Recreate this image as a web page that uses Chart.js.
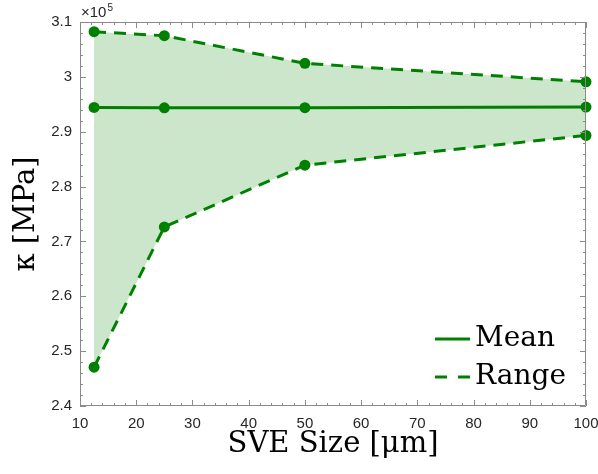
<!DOCTYPE html>
<html>
<head>
<meta charset="utf-8">
<script src="https://cdn.jsdelivr.net/npm/chart.js@4"></script>
<style>
  html, body { margin: 0; padding: 0; background: #fff; }
  #holder { width: 598px; height: 474px; }
</style>
</head>
<body>
<div id="holder"><canvas id="c" width="598" height="474"></canvas></div>
<script>
// data (kappa in MPa)
let sveSize   = [12.5, 25, 50, 100];
let meanVals  = [294430, 294360, 294380, 294490];
let upperVals = [308230, 307500, 302460, 299100];
let lowerVals = [247070, 272650, 283900, 289320];

let xTicks = [10, 20, 30, 40, 50, 60, 70, 80, 90, 100];
let yTicks = [240000, 250000, 260000, 270000, 280000, 290000, 300000, 310000];

let green = "#008000";
let axisGray = "#8a8a8a";
let textDark = "#262626";

function pts(vals) {
  return sveSize.map((s, i) => ({ x: s, y: vals[i] }));
}

// inside ticks on all four sides + box + exponent label
let boxTicks = {
  id: "boxTicks",
  afterDraw(chart) {
    let ctx = chart.ctx, a = chart.chartArea;
    let xs = chart.scales.x, ys = chart.scales.y;
    ctx.save();
    ctx.strokeStyle = axisGray;
    ctx.lineWidth = 1;
    ctx.beginPath();
    ctx.rect(a.left + 0.5, a.top + 0.5, a.right - a.left - 1, a.bottom - a.top - 1);
    ctx.stroke();

    ctx.beginPath();
    for (let v = xs.min; v <= xs.max + 1e-9; v += 2) {
      let len = (v % 10 === 0) ? 6 : 3;
      let px = Math.round(xs.getPixelForValue(v)) + 0.5;
      ctx.moveTo(px, a.bottom); ctx.lineTo(px, a.bottom - len);
      ctx.moveTo(px, a.top); ctx.lineTo(px, a.top + len);
    }
    for (let v = ys.min; v <= ys.max + 1; v += 2000) {
      let len = (Math.round(v) % 10000 === 0) ? 6 : 3;
      let py = Math.round(ys.getPixelForValue(v)) + 0.5;
      ctx.moveTo(a.left, py); ctx.lineTo(a.left + len, py);
      ctx.moveTo(a.right, py); ctx.lineTo(a.right - len, py);
    }
    ctx.stroke();

    // x10^5
    ctx.fillStyle = textDark;
    ctx.textBaseline = "alphabetic";
    ctx.textAlign = "left";
    ctx.font = "15px 'Liberation Sans'";
    ctx.fillText("\u00d710", a.left + 1, 17);
    let w = ctx.measureText("\u00d710").width;
    ctx.font = "10px 'Liberation Sans'";
    ctx.fillText("5", a.left + 1 + w + 1, 11);
    ctx.restore();
  }
};

// legend in lower right of plot
let legendBox = {
  id: "legendBox",
  afterDraw(chart) {
    let ctx = chart.ctx, a = chart.chartArea;
    let x0 = a.right - 151, x1 = a.right - 116;
    let rows = [
      { label: "Mean", y: a.bottom - 67, dash: [] },
      { label: "Range", y: a.bottom - 29, dash: [12, 11] }
    ];
    ctx.save();
    ctx.strokeStyle = green;
    ctx.lineWidth = 3;
    ctx.fillStyle = "#000";
    ctx.font = "28px 'DejaVu Serif'";
    ctx.textBaseline = "middle";
    rows.forEach(r => {
      ctx.setLineDash(r.dash);
      ctx.beginPath();
      ctx.moveTo(x0, r.y); ctx.lineTo(x1, r.y);
      ctx.stroke();
      ctx.fillText(r.label, x1 + 5, r.y);
    });
    ctx.restore();
  }
};

new Chart(document.getElementById("c"), {
  type: "line",
  data: {
    datasets: [
      {
        label: "Lower",
        data: pts(lowerVals),
        borderColor: green,
        backgroundColor: green,
        borderWidth: 3,
        borderDash: [12, 8],
        pointRadius: 5.5,
        pointBackgroundColor: green,
        pointBorderWidth: 0,
        fill: false,
        clip: false
      },
      {
        label: "Upper",
        data: pts(upperVals),
        borderColor: green,
        backgroundColor: "rgba(0,128,0,0.2)",
        borderWidth: 3,
        borderDash: [12, 8],
        pointRadius: 5.5,
        pointBackgroundColor: green,
        pointBorderWidth: 0,
        fill: { target: 0 },
        clip: false
      },
      {
        label: "Mean",
        data: pts(meanVals),
        borderColor: green,
        backgroundColor: green,
        borderWidth: 3,
        pointRadius: 5.5,
        pointBackgroundColor: green,
        pointBorderWidth: 0,
        fill: false,
        clip: false
      }
    ]
  },
  options: {
    responsive: false,
    animation: false,
    layout: { padding: { top: 22, right: 12, left: 0, bottom: 0 } },
    plugins: {
      legend: { display: false },
      tooltip: { enabled: false }
    },
    scales: {
      x: {
        type: "linear",
        min: 10,
        max: 100,
        afterBuildTicks: s => { s.ticks = xTicks.map(v => ({ value: v })); },
        afterFit: s => { s.height = 68; s.paddingRight = 0; s.paddingLeft = 0; },
        grid: { display: false, drawTicks: false },
        border: { display: false },
        ticks: {
          padding: 9,
          color: textDark,
          font: { family: "'Liberation Sans'", size: 15 },
          maxRotation: 0
        },
        title: {
          display: true,
          text: "SVE Size [\u03bcm]",
          color: "#000",
          font: { family: "'DejaVu Serif'", size: 29 },
          padding: { top: 0, bottom: 12 }
        }
      },
      y: {
        min: 240000,
        max: 310000,
        afterBuildTicks: s => { s.ticks = yTicks.map(v => ({ value: v })); },
        afterFit: s => { s.width = 80; },
        grid: { display: false, drawTicks: false },
        border: { display: false },
        ticks: {
          padding: 8,
          color: textDark,
          font: { family: "'Liberation Sans'", size: 15 },
          callback: v => String(Number((v / 1e5).toFixed(1)))
        },
        title: {
          display: true,
          text: "\u03ba [MPa]",
          color: "#000",
          font: { family: "'DejaVu Serif'", size: 29 },
          padding: { top: 9, bottom: 0 }
        }
      }
    }
  },
  plugins: [boxTicks, legendBox]
});
</script>
</body>
</html>
